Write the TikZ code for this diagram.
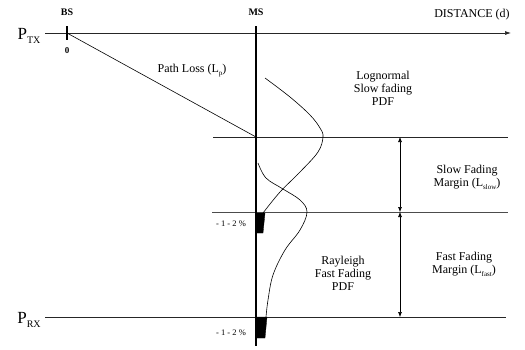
\documentclass[tikz,border=0pt]{standalone}
\usepackage{fontspec}
\setmainfont{Liberation Serif}
\usetikzlibrary{arrows.meta}
\newcommand{\dnsub}[1]{\raisebox{-0.55ex}{\scriptsize #1}}
\tikzset{
  axisline/.style={black!85, line width=0.7pt},
  tickmark/.style={black, line width=2.4pt},
  pdfcurve/.style={black, line width=0.6pt},
  margarrow/.style={black, line width=0.6pt, {Latex[length=5pt,width=4pt]}-{Latex[length=5pt,width=4pt]}},
  tailbar/.style={fill=black, draw=black, line width=0.3pt},
  lbl/.style={font=\fontsize{12}{13}\selectfont, align=center, inner sep=0pt},
  powlbl/.style={font=\fontsize{17}{19}\selectfont, inner sep=0pt},
  pctlbl/.style={font=\fontsize{8.5}{9}\selectfont, inner sep=0pt}
}
\begin{document}
\begin{tikzpicture}[x=1pt, y=-1pt]
  \useasboundingbox (0,0) rectangle (525,349);
  % levels and axis
  \coordinate (txa) at (45,33);
  \coordinate (txb) at (511,33);
  \coordinate (bs) at (67,33);
  \coordinate (mstop) at (256,26);
  \coordinate (msbot) at (256,346);
  \coordinate (pl) at (256,137);
  \coordinate (mida) at (213,137);
  \coordinate (midb) at (508,137);
  \coordinate (fada) at (212,212);
  \coordinate (fadb) at (508,212);
  \coordinate (rxa) at (45,317);
  \coordinate (rxb) at (506,317);
  \coordinate (arrtop) at (400,137);
  \coordinate (arrmid) at (400,212);
  \coordinate (arrbot) at (400,317);

  \draw[axisline, -{Latex[length=6pt,width=4pt]}] (txa) -- (txb);
  \draw[axisline] (mida) -- (midb);
  \draw[axisline, black!70] (fada) -- (fadb);
  \draw[axisline] (rxa) -- (rxb);
  \draw[black, line width=1.1pt] (mstop) -- (msbot);
  \draw[tickmark] (67,26) -- (67,40);
  \draw[tickmark] (256,26) -- (256,40);
  \draw[black, line width=0.6pt] (bs) -- (pl);

  \draw[margarrow] (arrtop) -- (arrmid);
  \draw[margarrow] (arrmid) -- (arrbot);

  % fading pdfs
  \draw[pdfcurve] plot[smooth, tension=0.6]
    coordinates {(265,78) (290,97) (310,115) (320,128) (323,137) (318,152) (300,172) (280,192) (263,213)};
  \draw[pdfcurve] plot[smooth, tension=0.6]
    coordinates {(258,163) (266,178) (283,189) (300,200) (307,212) (300,230) (285,250) (273,275) (268,300) (266,317)};
  \fill[tailbar] (256,213) -- (265,213) -- (263,233) -- (256,233) -- cycle;
  \fill[tailbar] (256,317) -- (267,317) -- (265,338) -- (256,338) -- cycle;

  \node[powlbl] (ptx) at (29,36) {P\dnsub{\normalsize TX}};
  \node[powlbl] (prx) at (29,320) {P\dnsub{\normalsize RX}};
  \node[lbl, font=\fontsize{10}{12}\selectfont\bfseries] (bslbl) at (67,12) {BS};
  \node[lbl, font=\fontsize{10}{12}\selectfont\bfseries] (mslbl) at (256,12) {MS};
  \node[lbl, font=\fontsize{9}{11}\selectfont\bfseries] (zero) at (67,51) {0};
  \node[lbl] (dist) at (472,15) {DISTANCE (d)};
  \node[lbl] (ploss) at (192,71) {Path Loss (L\dnsub{p})};
  \node[lbl] (logn) at (383,88) {Lognormal\\Slow fading\\PDF};
  \node[lbl] (slow) at (467,177) {Slow Fading\\Margin (L\dnsub{slow})};
  \node[lbl] (rayl) at (343,273) {Rayleigh\\Fast Fading\\PDF};
  \node[lbl] (fast) at (464,264) {Fast Fading\\Margin (L\dnsub{fast})};
  \node[pctlbl] (pcta) at (231,224) {- 1 - 2 \%};
  \node[pctlbl] (pctb) at (231,333) {- 1 - 2 \%};
\end{tikzpicture}
\end{document}
